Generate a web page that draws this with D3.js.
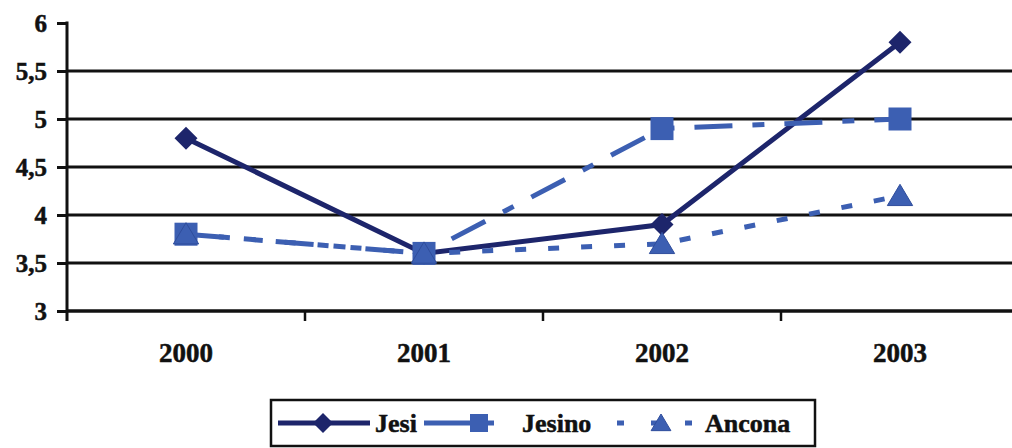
<!DOCTYPE html>
<html>
<head>
<meta charset="utf-8">
<script src="https://cdn.jsdelivr.net/npm/d3@7"></script>
<style>
  html, body { margin: 0; padding: 0; background: #fff; }
  svg { display: block; }
  text { font-family: "Liberation Serif", "Times New Roman", serif; font-weight: bold; fill: #111; stroke: #111; stroke-width: 0.5px; }
</style>
</head>
<body>
<svg id="chart" width="1012" height="448"></svg>
<script>
// Data
const years = ["2000", "2001", "2002", "2003"];
const jesi = [4.8, 3.6, 3.9, 5.8];
const jesino = [3.8, 3.6, 4.9, 5.0];
const ancona = [3.8, 3.6, 3.7, 4.2];
const yTicks = [3, 3.5, 4, 4.5, 5, 5.5, 6];
const seriesNames = ["Jesi", "Jesino", "Ancona"];

const navy = "#1d256b";
const blue = "#3c5fb2";

const svg = d3.select("#chart");

const x = d3.scaleBand().domain(years).range([67, 1019]);
const y = d3.scaleLinear().domain([3, 6]).range([311, 23]);
const fmt = v => String(v).replace(".", ",");

// Horizontal gridlines
svg.append("g")
  .selectAll("line")
  .data(yTicks.filter(t => t > 3 && t < 6))
  .join("line")
  .attr("x1", x.range()[0]).attr("x2", 1012)
  .attr("y1", d => y(d)).attr("y2", d => y(d))
  .attr("stroke", "#111").attr("stroke-width", 3);

// Y axis
const yAxis = svg.append("g")
  .attr("transform", `translate(${x.range()[0]},0)`)
  .call(d3.axisLeft(y).tickValues(yTicks).tickFormat(fmt).tickSize(10).tickPadding(10));
yAxis.select(".domain").remove();
yAxis.selectAll(".tick line").attr("stroke", "#111").attr("stroke-width", 3);
yAxis.selectAll(".tick text")
  .attr("font-size", 25).attr("font-family", "Liberation Serif").attr("font-weight", "bold").attr("fill", "#111");
svg.append("line")
  .attr("x1", x.range()[0]).attr("x2", x.range()[0])
  .attr("y1", y(6) - 1.5).attr("y2", y(3) + 10)
  .attr("stroke", "#111").attr("stroke-width", 3);

// X axis (ticks at category boundaries)
svg.append("line")
  .attr("x1", x.range()[0]).attr("x2", 1012)
  .attr("y1", y(3)).attr("y2", y(3))
  .attr("stroke", "#111").attr("stroke-width", 3.5);
svg.append("g")
  .selectAll("line")
  .data(years.slice(1))
  .join("line")
  .attr("x1", d => x(d)).attr("x2", d => x(d))
  .attr("y1", y(3)).attr("y2", y(3) + 10)
  .attr("stroke", "#111").attr("stroke-width", 2.5);
svg.append("g")
  .selectAll("text")
  .data(years)
  .join("text")
  .attr("x", d => x(d) + x.bandwidth() / 2)
  .attr("y", 362)
  .attr("text-anchor", "middle")
  .attr("font-size", 27)
  .text(d => d);

// Marker shapes
const diamond = (g, cx, cy, r, col) => g.append("path")
  .attr("d", `M${cx},${cy - r}L${cx + r},${cy}L${cx},${cy + r}L${cx - r},${cy}Z`)
  .attr("fill", col);
const square = (g, cx, cy, r, col) => g.append("rect")
  .attr("x", cx - r).attr("y", cy - r).attr("width", 2 * r).attr("height", 2 * r)
  .attr("fill", col);
const triangle = (g, cx, cy, r, col) => g.append("path")
  .attr("d", `M${cx},${cy - r}L${cx + r * 1.1},${cy + r * 0.85}L${cx - r * 1.1},${cy + r * 0.85}Z`)
  .attr("fill", col).attr("stroke", "#2f4d9c").attr("stroke-width", 1);

const series = [
  { name: seriesNames[0], values: jesi, color: navy, dash: null, marker: diamond, r: 11.5 },
  { name: seriesNames[1], values: jesino, color: blue, dash: "38,20,12,20", marker: square, r: 11.5 },
  { name: seriesNames[2], values: ancona, color: blue, dash: "11,22", marker: triangle, r: 11.5 }
];

const line = d3.line()
  .x((d, i) => x(years[i]) + x.bandwidth() / 2)
  .y(d => y(d));

series.forEach(s => {
  const g = svg.append("g");
  g.append("path")
    .datum(s.values)
    .attr("d", line)
    .attr("fill", "none")
    .attr("stroke", s.color)
    .attr("stroke-width", 5)
    .attr("stroke-dasharray", s.dash);
  s.values.forEach((v, i) => s.marker(g, x(years[i]) + x.bandwidth() / 2, y(v), s.r, s.color));
});

// Legend
const lg = svg.append("g");
lg.append("rect")
  .attr("x", 271).attr("y", 400).attr("width", 544).attr("height", 46)
  .attr("fill", "#fff").attr("stroke", "#111").attr("stroke-width", 2.5);
const ly = 423;
const legendItems = [
  { s: series[0], x1: 278, x2: 370, mx: 323, tx: 375 },
  { s: series[1], x1: 424, x2: 506, mx: 479, tx: 522 },
  { s: series[2], x1: 617, x2: 692, mx: 661, tx: 705 }
];
legendItems.forEach(it => {
  lg.append("line")
    .attr("x1", it.x1).attr("x2", it.x2).attr("y1", ly).attr("y2", ly)
    .attr("stroke", it.s.color).attr("stroke-width", 5)
    .attr("stroke-dasharray", it.s.name === "Jesino" ? "47,16,7,20" : it.s.name === "Ancona" ? "7,27,0,0,0,0,0,0" : null);
  it.s.marker(lg, it.mx, ly, it.s.name === "Jesi" ? 10 : 9, it.s.color);
  lg.append("text")
    .attr("x", it.tx).attr("y", ly + 9)
    .attr("font-size", 26)
    .text(it.s.name);
});
</script>
</body>
</html>
